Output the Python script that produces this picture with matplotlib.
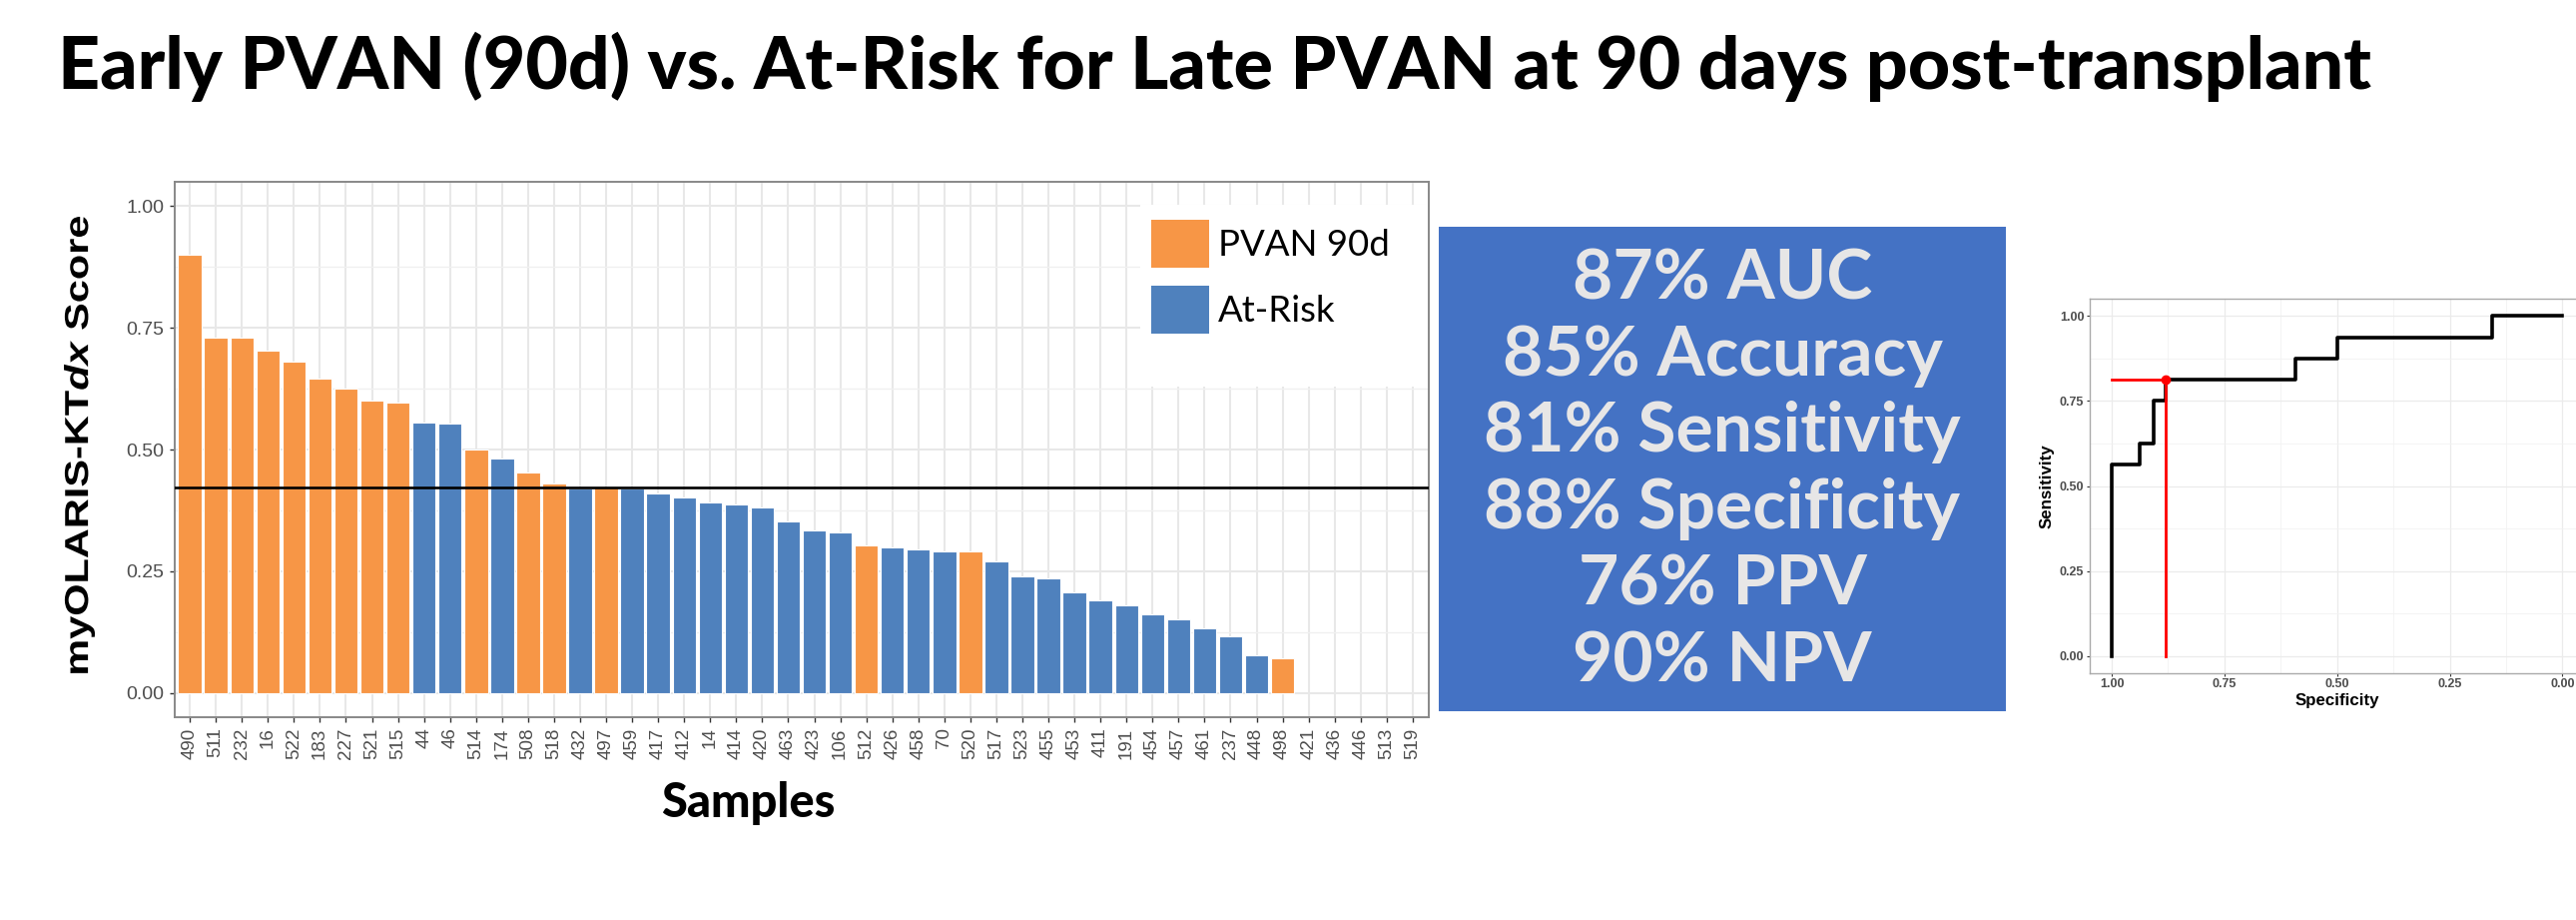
import numpy as np
import matplotlib
matplotlib.use("Agg")
import matplotlib.pyplot as plt
import matplotlib.transforms as mtransforms
from matplotlib.patches import Patch, Rectangle, PathPatch
from matplotlib.textpath import TextPath
from matplotlib.font_manager import FontProperties
from matplotlib.ticker import MultipleLocator

W, H = 2580, 921

# ---- data ----
samples = ["490", "511", "232", "16", "522", "183", "227", "521", "515", "44",
           "46", "514", "174", "508", "518", "432", "497", "459", "417", "412",
           "14", "414", "420", "463", "423", "106", "512", "426", "458", "70",
           "520", "517", "523", "455", "453", "411", "191", "454", "457", "461",
           "237", "448", "498", "421", "436", "446", "513", "519"]
scores = [0.900, 0.730, 0.730, 0.703, 0.681, 0.646, 0.626, 0.600, 0.597, 0.555,
          0.553, 0.500, 0.481, 0.452, 0.430, 0.421, 0.423, 0.421, 0.410, 0.401,
          0.391, 0.387, 0.382, 0.352, 0.333, 0.330, 0.303, 0.300, 0.294, 0.291,
          0.291, 0.271, 0.240, 0.236, 0.207, 0.190, 0.181, 0.162, 0.151, 0.133,
          0.117, 0.077, 0.072, None, None, None, None, None]
P, R = "PVAN 90d", "At-Risk"
groups = [P, P, P, P, P, P, P, P, P, R,
          R, P, R, P, P, R, P, R, R, R,
          R, R, R, R, R, R, P, R, R, R,
          P, R, R, R, R, R, R, R, R, R,
          R, R, P, None, None, None, None, None]
threshold = 0.4218

group_names = [P, R]
group_colors = {P: "#F79646", R: "#4F81BD"}

metric_lines = ["87% AUC", "85% Accuracy", "81% Sensitivity",
                "88% Specificity", "76% PPV", "90% NPV"]

roc_spec = [1.0, 1.0, 0.938, 0.938, 0.907, 0.907, 0.88, 0.88, 0.593, 0.593,
            0.50, 0.50, 0.156, 0.156, 0.0]
roc_sens = [0.0, 0.5625, 0.5625, 0.625, 0.625, 0.75, 0.75, 0.8125, 0.8125, 0.875,
            0.875, 0.9375, 0.9375, 1.0, 1.0]
best_spec, best_sens = 0.88, 0.8125

# ---- fonts ----
plt.rcParams["mathtext.fontset"] = "custom"
plt.rcParams["mathtext.rm"] = "Liberation Sans:bold"
plt.rcParams["mathtext.bf"] = "Liberation Sans:bold"
plt.rcParams["mathtext.it"] = "Liberation Sans:italic:bold"
HEAVY = ["Lato", "DejaVu Sans"]
GG = ["Liberation Sans", "DejaVu Sans"]

fig = plt.figure(figsize=(W / 100, H / 100), dpi=100)
fig.patch.set_facecolor("white")
renderer = fig.canvas.get_renderer()


def fx(px):
    return px / W


def fy(py):
    return 1 - py / H


def fit_width(t, target):
    w = t.get_window_extent(renderer).width
    t.set_fontsize(t.get_fontsize() * target / w)


# title
t = fig.text(fx(58), fy(89), "Early PVAN (90d) vs. At-Risk for Late PVAN at 90 days post-transplant",
             ha="left", va="baseline", fontsize=48, fontweight="black", family=HEAVY)
fit_width(t, 2319)

# ---- bar chart ----
ax = fig.add_axes([fx(174.5), fy(718.2), (1430.5 - 174.5) / W, (718.2 - 181.8) / H])
x = np.arange(len(samples))
valid = [i for i, s in enumerate(scores) if s is not None]
ax.bar([x[i] for i in valid], [scores[i] for i in valid], width=0.9,
       color=[group_colors[groups[i]] for i in valid], edgecolor="white",
       linewidth=0.8, zorder=2)
ax.axhline(threshold, color="black", lw=1.9, zorder=3)
ax.set_xlim(-0.6, len(samples) - 0.4)
ax.set_ylim(-0.05, 1.05)
ax.set_xticks(x)
ax.set_xticklabels(samples, rotation=90, fontsize=13.5, color="#4D4D4D", family=GG)
ax.set_yticks([0, 0.25, 0.5, 0.75, 1.0])
ax.set_yticklabels(["0.00", "0.25", "0.50", "0.75", "1.00"], fontsize=14,
                   color="#4D4D4D", family=GG)
ax.yaxis.set_minor_locator(MultipleLocator(0.125))
ax.tick_params(which="major", length=3.6, width=1, color="#333333", pad=3.8)
ax.tick_params(which="minor", length=0)
ax.set_axisbelow(True)
ax.grid(which="major", color="#E8E8E8", lw=1.5)
ax.grid(which="minor", axis="y", color="#F0F0F0", lw=1.0)
for sp in ax.spines.values():
    sp.set_color("#888888")
    sp.set_linewidth(1.4)

# legend panel (white box pasted over the grid)
ax.add_patch(Rectangle(((1142 - 174.5) / 1256, (718.2 - 387) / 536.4),
                       (1429.5 - 1142) / 1256, (387 - 205) / 536.4,
                       transform=ax.transAxes, facecolor="white",
                       edgecolor="none", zorder=1))
leg_fs = 26
em = leg_fs * 100 / 72
leg = ax.legend([Patch(facecolor=group_colors[g], edgecolor="none") for g in group_names],
                group_names, loc="upper left", bbox_to_anchor=(fx(1152.7), fy(220)),
                bbox_transform=fig.transFigure, frameon=False, borderpad=0,
                borderaxespad=0, handlelength=58.3 / em, handleheight=60.7 / em,
                labelspacing=17.3 / em, handletextpad=9 / em,
                prop={"family": HEAVY, "size": leg_fs})
fit_width(leg.get_texts()[0], 172)
for lt in leg.get_texts()[1:]:
    lt.set_fontsize(leg.get_texts()[0].get_fontsize())
leg.set_zorder(5)

# y label drawn as a path so its length and height match the reference
tp = TextPath((0, 0), r"myOLARIS-KT$dx$ Score", size=30,
              prop=FontProperties(family="Liberation Sans", weight="bold"))
ext = tp.get_extents()
tr = (mtransforms.Affine2D()
      .translate(-(ext.x0 + ext.x1) / 2, -(ext.y0 + ext.y1) / 2)
      .scale(457 / ext.width, 31 / ext.height)
      .rotate_deg(90)
      .translate(79.5, H - 445.5))
fig.add_artist(PathPatch(tp, transform=tr, facecolor="black", edgecolor="none"))

t = fig.text(fx(749), fy(818), "Samples", ha="center", va="baseline",
             fontsize=30, fontweight="black", family=HEAVY)
fit_width(t, 174)

# ---- metrics box ----
fig.add_artist(Rectangle((fx(1441), fy(711.7)), (2009 - 1441) / W, (711.7 - 226.7) / H,
                         transform=fig.transFigure, facecolor="#4472C4", edgecolor="none"))
baselines = [299, 375.5, 452, 528.5, 605, 682.5]
texts = []
for line, b in zip(metric_lines, baselines):
    texts.append(fig.text(fx(1725), fy(b), line, ha="center", va="baseline",
                          fontsize=44, fontweight="bold", color="#E7E6E6", family=HEAVY))
fit_width(texts[3], 476)
for tt in texts:
    tt.set_fontsize(texts[3].get_fontsize())

# ---- ROC curve ----
ax2 = fig.add_axes([fx(2092.5), fy(674), (2589 - 2092.5) / W, (674 - 299.3) / H])
ax2.plot(roc_spec, roc_sens, color="black", lw=2.6, zorder=3)
ax2.plot([1.0, best_spec], [best_sens, best_sens], color="red", lw=2, zorder=4)
ax2.plot([best_spec, best_spec], [0, best_sens], color="red", lw=2, zorder=4)
ax2.plot([best_spec], [best_sens], "o", color="red", ms=6, zorder=5)
ax2.set_xlim(1.05, -0.05)
ax2.set_ylim(-0.05, 1.05)
ticks = [0, 0.25, 0.5, 0.75, 1.0]
tlabels = ["0.00", "0.25", "0.50", "0.75", "1.00"]
ax2.set_xticks(ticks)
ax2.set_xticklabels(tlabels, fontsize=9, color="#4D4D4D", fontweight="bold", family=GG)
ax2.set_yticks(ticks)
ax2.set_yticklabels(tlabels, fontsize=9, color="#4D4D4D", fontweight="bold", family=GG)
ax2.xaxis.set_minor_locator(MultipleLocator(0.125))
ax2.yaxis.set_minor_locator(MultipleLocator(0.125))
ax2.tick_params(which="major", length=2.2, width=0.8, color="#333333", pad=1.5)
ax2.tick_params(which="minor", length=0)
ax2.set_axisbelow(True)
ax2.grid(which="major", color="#EBEBEB", lw=0.9)
ax2.grid(which="minor", color="#F2F2F2", lw=0.6)
for sp in ax2.spines.values():
    sp.set_color("#AAAAAA")
    sp.set_linewidth(1.0)
t2 = fig.text(fx(2340.5), fy(701.7), "Specificity", ha="center", va="center",
              fontsize=12, fontweight="bold", family=GG)
fit_width(t2, 84)
fig.text(fx(2050), fy(486.7), "Sensitivity", rotation=90, ha="center", va="center",
         fontsize=t2.get_fontsize(), fontweight="bold", family=GG)

fig.savefig("out.png", dpi=100, facecolor="white")
